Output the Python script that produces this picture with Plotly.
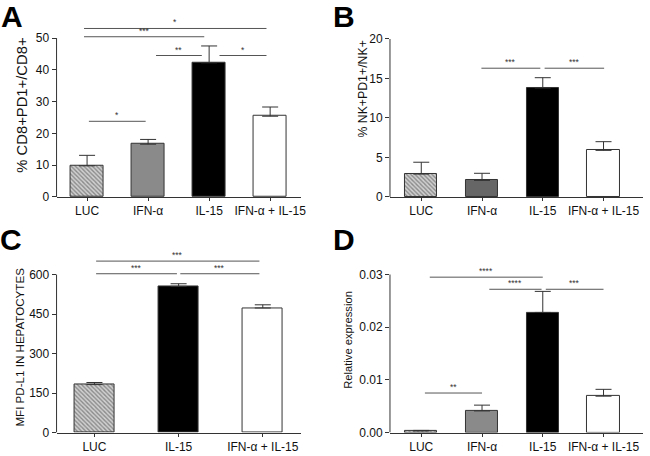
import plotly.graph_objects as go

# ---------------- data ----------------
cats4 = ["LUC", "IFN-α", "IL-15", "IFN-α + IL-15"]
cats3 = ["LUC", "IL-15", "IFN-α + IL-15"]

A_mean = [9.8, 16.6, 42.2, 25.4]
A_sem = [3.3, 1.5, 5.3, 2.9]
B_mean = [2.9, 2.1, 13.8, 5.9]
B_sem = [1.5, 0.9, 1.3, 1.1]
C_mean = [182, 555, 473]
C_sem = [8, 10, 12]
D_mean = [0.0003, 0.0041, 0.0228, 0.0069]
D_sem = [0.0001, 0.0011, 0.0040, 0.0013]

# significance brackets: (x start, x end, height, label)
A_sig = [(0.03, 0.96, 23.8, "*"), (1.13, 1.88, 44.5, "**"), (2.17, 2.94, 44.5, "*"),
         (-0.05, 1.92, 50.4, "***"), (-0.05, 2.94, 53.0, "*")]
B_sig = [(0.99, 1.96, 16.3, "***"), (2.03, 3.01, 16.3, "***")]
C_sig = [(0.02, 0.98, 603, "***"), (1.02, 1.96, 603, "***"), (0.02, 1.96, 651, "***")]
D_sig = [(0.06, 1.0, 0.0075, "**"), (1.12, 1.98, 0.0272, "****"), (2.05, 3.0, 0.0272, "***"),
         (0.14, 2.0, 0.0295, "****")]

A_ticks = [0, 10, 20, 30, 40, 50]
B_ticks = [0, 5, 10, 15, 20]
C_ticks = [0, 150, 300, 450, 600]
D_ticks = [0, 0.01, 0.02, 0.03]

A_title = "% CD8+PD1+/CD8+"
B_title = "% NK+PD1+/NK+"
C_title = "MFI PD-L1 IN HEPATOCYTES"
D_title = "Relative expression"

# ---------------- style ----------------
W, H = 650, 456
FONT = "Arial, Liberation Sans, sans-serif"
AX = "#333333"
HATCH = "\\"

def px2fx(p):
    return p / W

def px2fy(p):
    return (H - p) / H

panels = [
    dict(name="A", cats=cats4, mean=A_mean, sem=A_sem, sig=A_sig, ticks=A_ticks,
         title=A_title, tpos=(22, 101), tsize=14.8,
         colors=["#d0d0d0", "#8a8a8a", "#000000", "#ffffff"],
         xd=[px2fx(57), px2fx(303)], xr=[-0.5, 3.5], y0=196, ytop_px=32, yr_top=57,
         bw=0.53, fmt=None, letter=(1, 2)),
    dict(name="B", cats=cats4, mean=B_mean, sem=B_sem, sig=B_sig, ticks=B_ticks,
         title=B_title, tpos=(366, 85), tsize=12.3,
         colors=["#d0d0d0", "#666666", "#000000", "#ffffff"],
         xd=[px2fx(393), px2fx(648)], xr=[-0.515, 3.65], y0=196, ytop_px=33, yr_top=20,
         bw=0.53, fmt=None, letter=(336, 2)),
    dict(name="C", cats=cats3, mean=C_mean, sem=C_sem, sig=C_sig, ticks=C_ticks,
         title=C_title, tpos=(19.5, 351), tsize=11.6,
         colors=["#d0d0d0", "#000000", "#ffffff"],
         xd=[px2fx(57), px2fx(303)], xr=[-0.45, 2.45], y0=439, ytop_px=276, yr_top=680,
         bw=0.47, fmt=None, letter=(0, 232)),
    dict(name="D", cats=cats4, mean=D_mean, sem=D_sem, sig=D_sig, ticks=D_ticks,
         title=D_title, tpos=(351, 343), tsize=11.2,
         colors=["#d0d0d0", "#8a8a8a", "#000000", "#ffffff"],
         xd=[px2fx(393), px2fx(648)], xr=[-0.515, 3.65], y0=439, ytop_px=276, yr_top=0.0305,
         bw=0.53, fmt=".2f", letter=(336, 232)),
]

fig = go.Figure()
shapes = []
annotations = []

for i, p in enumerate(panels):
    n = i + 1
    xa = "x" if n == 1 else f"x{n}"
    ya = "y" if n == 1 else f"y{n}"
    tmax = p["ticks"][-1]
    scale = (p["y0"] - p["ytop_px"]) / tmax  # px per unit
    top_px = p["y0"] - p["yr_top"] * scale
    yd = [px2fy(p["y0"]), px2fy(top_px)]
    idx = list(range(len(p["cats"])))
    patterns = [HATCH] + [""] * (len(idx) - 1)

    fig.add_trace(go.Bar(
        x=idx, y=p["mean"], width=p["bw"], xaxis=xa, yaxis=ya,
        marker=dict(color=p["colors"], line=dict(color=AX, width=1),
                    pattern=dict(shape=patterns, fgcolor="#444444", bgcolor="#dcdcdc",
                                 size=3, solidity=0.45)),
        error_y=dict(type="data", array=p["sem"], arrayminus=[0] * len(idx),
                     symmetric=False, color=AX, thickness=1, width=8),
        showlegend=False, hoverinfo="skip",
    ))

    for (s0, s1, h, lab) in p["sig"]:
        fig.add_trace(go.Scatter(x=[s0, s1], y=[h, h], mode="lines", xaxis=xa, yaxis=ya,
                                 line=dict(color="#555555", width=1), showlegend=False,
                                 hoverinfo="skip"))
        annotations.append(dict(x=(s0 + s1) / 2, y=h, xref=xa, yref=ya, text=lab,
                                showarrow=False, yanchor="bottom", yshift=-1,
                                font=dict(family=FONT, size=8.5, color="#333333")))

    # y axis line from 0 to the top tick only
    shapes.append(dict(type="line", xref=f"{xa} domain", yref=ya, x0=0, x1=0, y0=0, y1=tmax,
                       line=dict(color=AX, width=1)))

    xkey = "xaxis" if n == 1 else f"xaxis{n}"
    ykey = "yaxis" if n == 1 else f"yaxis{n}"
    fig.update_layout(**{
        xkey: dict(domain=p["xd"], range=p["xr"], anchor=ya, tickvals=idx, ticktext=p["cats"],
                   showline=True, linecolor=AX, linewidth=1, ticks="outside", ticklen=3,
                   tickcolor=AX, showgrid=False, zeroline=False, fixedrange=True,
                   tickfont=dict(family=FONT, size=12, color="#111111")),
        ykey: dict(domain=yd, range=[0, p["yr_top"]], anchor=xa, tickvals=p["ticks"],
                   tickformat=p["fmt"], showline=False, ticks="outside", ticklen=4,
                   tickcolor=AX, showgrid=False, zeroline=False, fixedrange=True,
                   tickfont=dict(family=FONT, size=12, color="#111111")),
    })

    # y-axis title as rotated text
    tx, ty = p["tpos"]
    annotations.append(dict(x=px2fx(tx), y=px2fy(ty), xref="paper", yref="paper",
                            text=p["title"], textangle=-90, showarrow=False,
                            xanchor="center", yanchor="middle",
                            font=dict(family=FONT, size=p["tsize"], color="#111111")))

    lx, ly = p["letter"]
    annotations.append(dict(x=px2fx(lx), y=px2fy(ly), xref="paper", yref="paper",
                            text=f"<b>{p['name']}</b>", showarrow=False, xanchor="left",
                            yanchor="top", yshift=11, xshift=-2,
                            font=dict(family=FONT, size=30, color="#000000")))

fig.update_layout(width=W, height=H, margin=dict(l=0, r=0, t=0, b=0),
                  paper_bgcolor="white", plot_bgcolor="white",
                  shapes=shapes, annotations=annotations, bargap=0)

fig.write_html("out.html", config={"displayModeBar": False},
               post_script="document.body.style.margin='0px';")
